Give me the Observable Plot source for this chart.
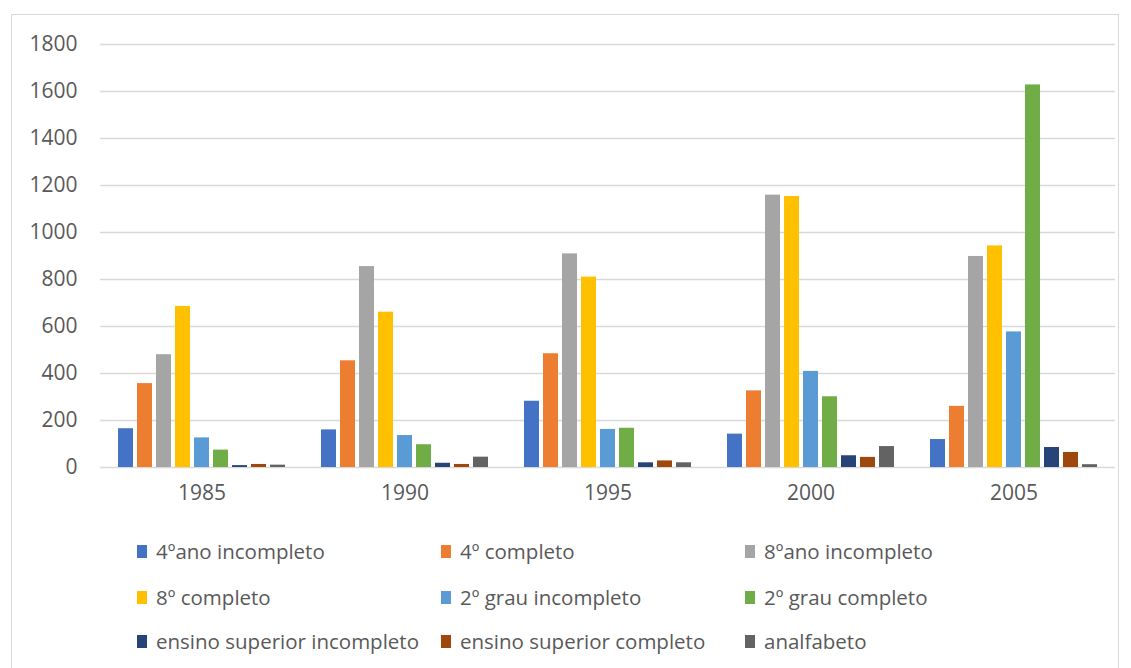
<!DOCTYPE html>
<html>
<head>
<meta charset="utf-8">
<script src="https://cdn.jsdelivr.net/npm/d3@7"></script>
<script src="https://cdn.jsdelivr.net/npm/@observablehq/plot@0.6"></script>
<style>
  html, body { margin: 0; padding: 0; background: #fff; }
  body { width: 1131px; height: 668px; position: relative; overflow: hidden; font-family: "Open Sans", sans-serif; }
  #frame { position: absolute; left: 11px; top: 14px; width: 1108px; height: 670px; border: 1px solid #d9d9d9; box-sizing: border-box; }
  #chart { position: absolute; left: 0; top: 0; }
  #legend { position: absolute; left: 0; top: 0; width: 1131px; height: 668px; pointer-events: none; }
  .item { position: absolute; display: flex; align-items: center; font-size: 20.5px; color: #595959; white-space: nowrap; }
  .sw { width: 10px; height: 13px; margin-right: 9px; }
</style>
</head>
<body>
<div id="frame"></div>
<div id="chart"></div>
<div id="legend"></div>
<script>
const years = ["1985", "1990", "1995", "2000", "2005"];
const categories = [
  "4ºano incompleto", "4º completo", "8ºano incompleto",
  "8º completo", "2º grau incompleto", "2º grau completo",
  "ensino superior incompleto", "ensino superior completo", "analfabeto"
];
const colors = ["#4472C4", "#ED7D31", "#A5A5A5", "#FFC000", "#5B9BD5", "#70AD47", "#264478", "#9E480E", "#636363"];
// values per category, in order of years
const v4anoInc   = [165, 160, 282, 142, 119];
const v4Comp     = [357, 454, 484, 326, 260];
const v8anoInc   = [480, 855, 909, 1159, 898];
const v8Comp     = [685, 661, 810, 1153, 943];
const v2grauInc  = [126, 136, 162, 409, 577];
const v2grauComp = [74, 97, 167, 301, 1628];
const vSupInc    = [8, 18, 20, 50, 85];
const vSupComp   = [13, 13, 28, 43, 64];
const vAnalf     = [10, 44, 20, 89, 12];
const yTicks = [0, 200, 400, 600, 800, 1000, 1200, 1400, 1600, 1800];

const series = [v4anoInc, v4Comp, v8anoInc, v8Comp, v2grauInc, v2grauComp, vSupInc, vSupComp, vAnalf];
const data = [];
years.forEach((yr, i) => {
  categories.forEach((c, j) => data.push({year: yr, cat: c, value: series[j][i]}));
});

const chart = Plot.plot({
  width: 1131,
  height: 507,
  marginLeft: 99,
  marginRight: 15,
  marginTop: 44,
  marginBottom: 40,
  style: {fontFamily: "'Open Sans', sans-serif", fontSize: "21px", color: "#595959", background: "transparent"},
  fx: {domain: years, padding: 0, label: null, axis: null},
  x: {domain: categories, paddingInner: 0.2, paddingOuter: 0.77, axis: null},
  y: {domain: [0, 1800], ticks: yTicks, label: null, axis: null},
  color: {domain: categories, range: colors},
  marks: [
    Plot.gridY(yTicks, {stroke: "#d9d9d9", strokeOpacity: 1, strokeWidth: 1.5, facetAnchor: null}),
    Plot.axisY({ticks: yTicks, tickSize: 0, tickPadding: 23, label: null, fill: "#595959", tickFormat: d => String(d)}),
    Plot.axisFx({anchor: "bottom", tickSize: 0, tickPadding: 18, label: null, fill: "#595959"}),
    Plot.barY(data, {fx: "year", x: "cat", y: "value", fill: "cat"})
  ]
});
document.getElementById("chart").appendChild(chart);

const legend = document.getElementById("legend");
const colX = [137, 441, 745];
const rowY = [551, 597, 641];
categories.forEach((c, j) => {
  const d = document.createElement("div");
  d.className = "item";
  d.style.left = colX[j % 3] + "px";
  d.style.top = (rowY[Math.floor(j / 3)] - 14) + "px";
  d.style.height = "28px";
  const sw = document.createElement("div");
  sw.className = "sw";
  sw.style.background = colors[j];
  d.appendChild(sw);
  const t = document.createElement("span");
  t.textContent = c;
  d.appendChild(t);
  legend.appendChild(d);
});
</script>
</body>
</html>
